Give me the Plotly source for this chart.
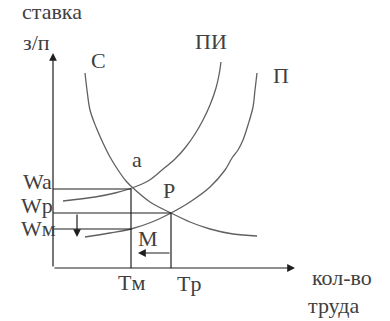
import plotly.graph_objects as go

# labour market under monopsony: quantity of labour (q) vs wage rate (w)
demand_q = [32, 34, 37, 43, 50, 57, 65, 73, 80, 97, 118, 137, 157, 180, 204]
demand_w = [195, 178, 158, 141, 125, 111, 98, 87, 80, 66, 55, 46, 39, 34, 32]

mc_q = [10, 42, 62, 79, 95, 109, 122, 132, 142, 150, 157, 163, 166, 168]
mc_w = [67, 71, 75, 80, 87, 98, 109, 120, 134, 148, 163, 180, 193, 206]

supply_q = [32, 57, 78, 99, 118, 137, 157, 172, 179, 185, 190, 195, 200, 202, 204]
supply_w = [31, 35, 39, 46, 55, 66, 81, 98, 110, 118, 128, 143, 161, 178, 195]

Wa, Wp, Wm = 79, 55, 39
Tm, Tp = 78, 118
X_END, Y_TOP = 242, 215

CURVE = '#606060'
LINE = '#1e1e1e'
TEXT = '#404040'
FONT = "'Times New Roman', 'Liberation Serif', Times, serif"

fig = go.Figure()
for q, w in [(demand_q, demand_w), (mc_q, mc_w), (supply_q, supply_w)]:
    fig.add_trace(go.Scatter(x=q, y=w, mode='lines', line=dict(color=CURVE, width=1.3, shape='spline'),
                             hoverinfo='skip'))

# guide lines
guides = [([0, Tm], [Wa, Wa]), ([0, Tp], [Wp, Wp]), ([0, Tm], [Wm, Wm]),
          ([Tm, Tm], [0, Wa]), ([Tp, Tp], [0, Wp])]
for gx, gy in guides:
    fig.add_trace(go.Scatter(x=gx, y=gy, mode='lines', line=dict(color=LINE, width=1.2), hoverinfo='skip'))

def arrow(x0, y0, x1, y1):
    fig.add_annotation(x=x1, y=y1, ax=x0, ay=y0, xref='x', yref='y', axref='x', ayref='y',
                       text='', showarrow=True, arrowhead=2, arrowsize=1.3, arrowwidth=1.2, arrowcolor=LINE)

arrow(0, 0, 0, Y_TOP)
arrow(0, 0, X_END, 0)
arrow(24, Wp, 24, 31)
arrow(Tp, 15, 85, 15)

labels = [('ставка', -1, 257), ('з/п', -17, 226), ('С', 45, 208), ('ПИ', 158, 227), ('П', 228, 193),
          ('a', 84, 109), ('P', 116, 78), ('Wa', -16, 87), ('Wp', -16, 63), ('Wм', -15, 40),
          ('M', 95, 30), ('Tм', 78, -14), ('Tp', 136, -15), ('кол-во', 289, -9), ('труда', 280, -37)]
for t, x, y in labels:
    fig.add_annotation(x=x, y=y, text=t, showarrow=False, font=dict(family=FONT, size=22, color=TEXT))

fig.update_layout(width=390, height=321, margin=dict(l=0, r=0, t=0, b=0), showlegend=False,
                  plot_bgcolor='white', paper_bgcolor='white',
                  xaxis=dict(range=[-53, 337], visible=False, fixedrange=True),
                  yaxis=dict(range=[-53, 268], visible=False, fixedrange=True))
fig.write_html("out.html", config=dict(displayModeBar=False),
               post_script="document.body.style.margin='0';")
